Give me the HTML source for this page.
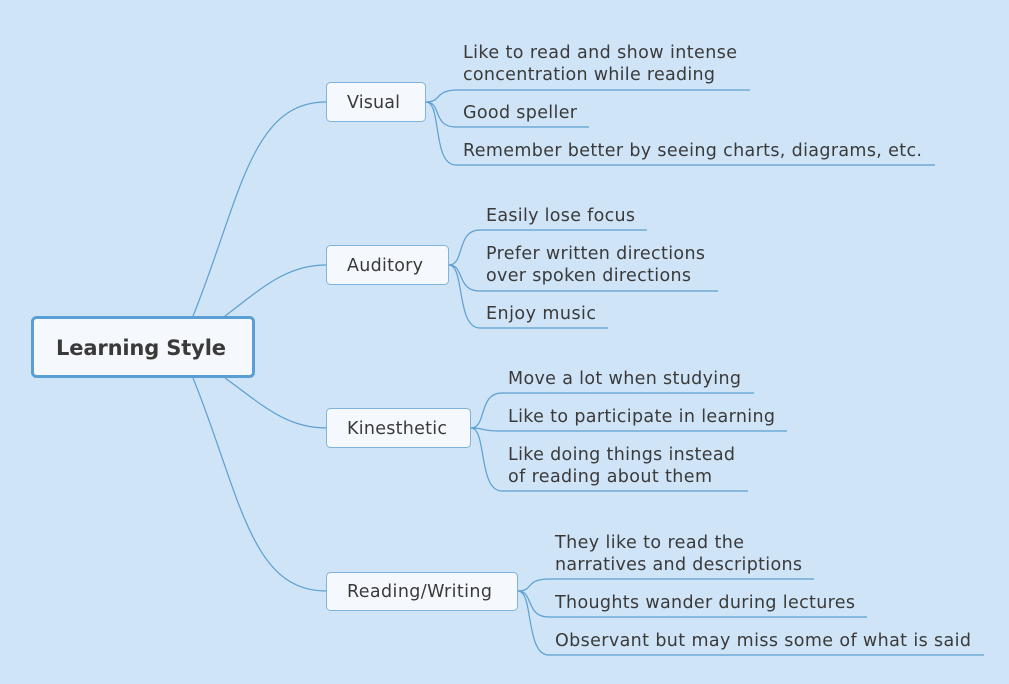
<!DOCTYPE html>
<html><head><meta charset="utf-8"><style>
html,body{margin:0;padding:0;background:#cfe4f7;}
svg{display:block;}
text{font-family:"DejaVu Sans","Liberation Sans",sans-serif;fill:#3a3a3a;font-size:17.5px;}
</style></head><body>
<svg width="1009" height="684" viewBox="0 0 1009 684" xmlns="http://www.w3.org/2000/svg">
<rect width="1009" height="684" fill="#cfe4f7"/>
<g fill="none" stroke="#5c9fd0" stroke-width="1.2">
<path d="M193,316 C240,200 250,102 326,102"/>
<path d="M225,316 C260,290 285,265 326,265"/>
<path d="M225,378 C260,403 285,428 326,428"/>
<path d="M193,378 C240,494 250,591 326,591"/>
<path d="M426,102 C442,102 434,90 458,90 L750,90"/>
<path d="M426,102 C442,102 432,127 456,127 L589,127"/>
<path d="M426,102 C442,102 432,165 456,165 L935,165"/>
<path d="M449,265 C465,265 456,230 480,230 L647,230"/>
<path d="M449,265 C465,265 456,291 480,291 L718,291"/>
<path d="M449,265 C465,265 456,328 480,328 L608,328"/>
<path d="M471,428 C487,428 478,393 502,393 L754,393"/>
<path d="M471,428 C487,428 478,431 502,431 L787,431"/>
<path d="M471,428 C487,428 478,491 502,491 L748,491"/>
<path d="M518,591 C534,591 525,579 549,579 L814,579"/>
<path d="M518,591 C534,591 525,617 549,617 L867,617"/>
<path d="M518,591 C534,591 525,655 549,655 L984,655"/>
</g>
<rect x="32.5" y="317.5" width="221" height="59" rx="4" fill="#f5f9fd" stroke="#5a9fd4" stroke-width="3"/>
<text x="141" y="355" text-anchor="middle" style="font-weight:bold;font-size:21px" textLength="170">Learning Style</text>
<g fill="#f5f9fd" stroke="#7fb3dc" stroke-width="1">
<rect x="326.5" y="82.5" width="99" height="39" rx="4"/>
<rect x="326.5" y="245.5" width="122" height="39" rx="4"/>
<rect x="326.5" y="408.5" width="144" height="39" rx="4"/>
<rect x="326.5" y="572.5" width="191" height="38" rx="4"/>
</g>
<text x="347" y="108" textLength="53">Visual</text>
<text x="347" y="271" textLength="76">Auditory</text>
<text x="347" y="434" textLength="100">Kinesthetic</text>
<text x="347" y="597" textLength="145">Reading/Writing</text>

<text x="463" y="58" textLength="274">Like to read and show intense</text>
<text x="463" y="80" textLength="252">concentration while reading</text>
<text x="463" y="118" textLength="114">Good speller</text>
<text x="463" y="156" textLength="459">Remember better by seeing charts, diagrams, etc.</text>

<text x="486" y="221" textLength="149">Easily lose focus</text>
<text x="486" y="259" textLength="219">Prefer written directions</text>
<text x="486" y="281" textLength="205">over spoken directions</text>
<text x="486" y="319" textLength="110">Enjoy music</text>

<text x="508" y="384" textLength="233">Move a lot when studying</text>
<text x="508" y="422" textLength="267">Like to participate in learning</text>
<text x="508" y="460" textLength="227">Like doing things instead</text>
<text x="508" y="482" textLength="204">of reading about them</text>

<text x="555" y="548" textLength="189">They like to read the</text>
<text x="555" y="570" textLength="247">narratives and descriptions</text>
<text x="555" y="608" textLength="300">Thoughts wander during lectures</text>
<text x="555" y="646" textLength="416">Observant but may miss some of what is said</text>
</svg>
</body></html>
